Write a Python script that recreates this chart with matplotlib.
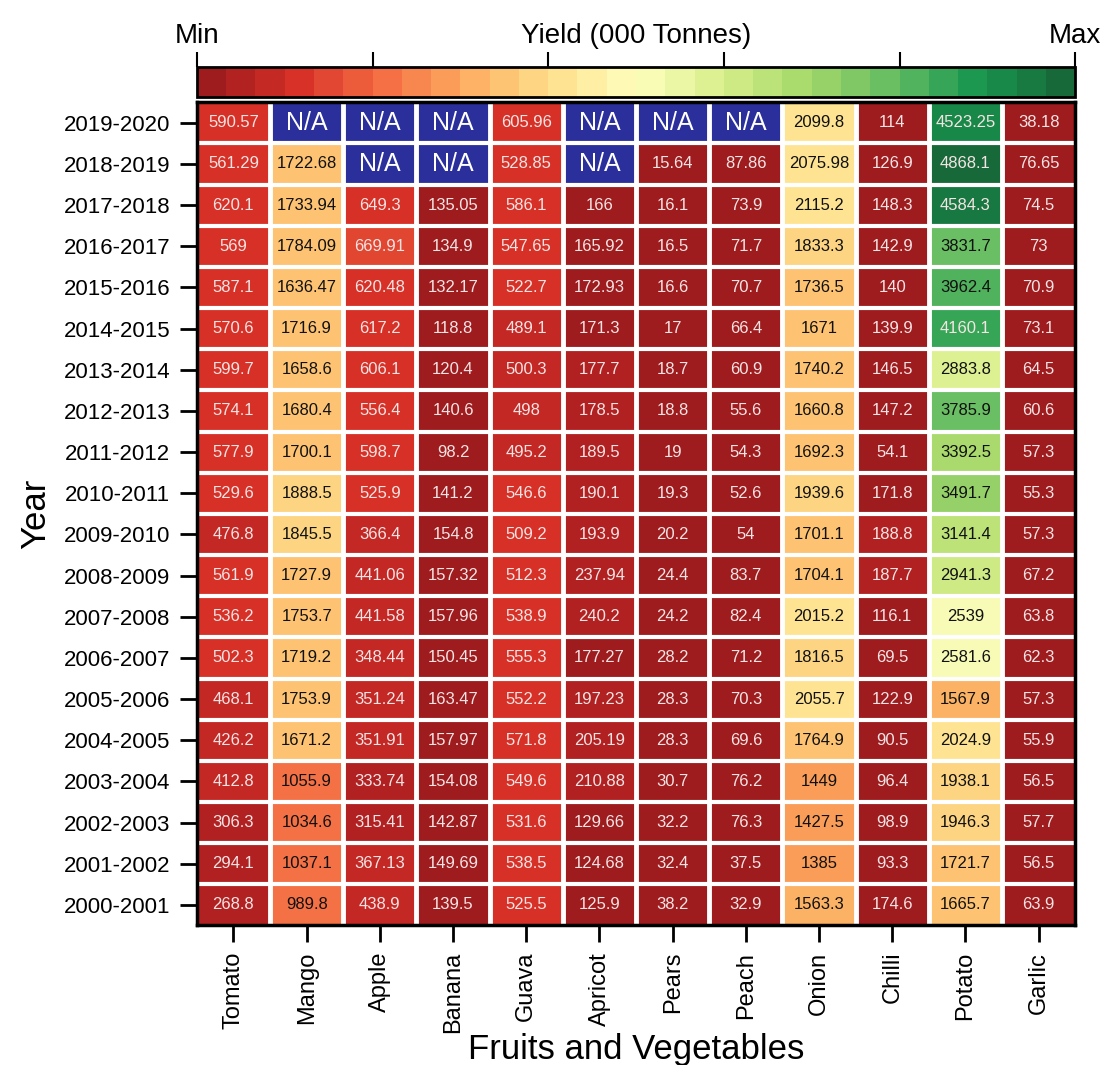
import numpy as np
import matplotlib
matplotlib.use('Agg')
import matplotlib.pyplot as plt
from matplotlib.colors import LinearSegmentedColormap

plt.rcParams['font.family'] = ['Liberation Sans', 'DejaVu Sans']

nan = np.nan
years = ['2019-2020', '2018-2019', '2017-2018', '2016-2017', '2015-2016',
         '2014-2015', '2013-2014', '2012-2013', '2011-2012', '2010-2011',
         '2009-2010', '2008-2009', '2007-2008', '2006-2007', '2005-2006',
         '2004-2005', '2003-2004', '2002-2003', '2001-2002', '2000-2001']
crops = ['Tomato', 'Mango', 'Apple', 'Banana', 'Guava', 'Apricot',
         'Pears', 'Peach', 'Onion', 'Chilli', 'Potato', 'Garlic']

# yields per crop, listed top row (2019-2020) to bottom row (2000-2001)
tomato = [590.57, 561.29, 620.1, 569, 587.1, 570.6, 599.7, 574.1, 577.9, 529.6,
          476.8, 561.9, 536.2, 502.3, 468.1, 426.2, 412.8, 306.3, 294.1, 268.8]
mango = [nan, 1722.68, 1733.94, 1784.09, 1636.47, 1716.9, 1658.6, 1680.4, 1700.1, 1888.5,
         1845.5, 1727.9, 1753.7, 1719.2, 1753.9, 1671.2, 1055.9, 1034.6, 1037.1, 989.8]
apple = [nan, nan, 649.3, 669.91, 620.48, 617.2, 606.1, 556.4, 598.7, 525.9,
         366.4, 441.06, 441.58, 348.44, 351.24, 351.91, 333.74, 315.41, 367.13, 438.9]
banana = [nan, nan, 135.05, 134.9, 132.17, 118.8, 120.4, 140.6, 98.2, 141.2,
          154.8, 157.32, 157.96, 150.45, 163.47, 157.97, 154.08, 142.87, 149.69, 139.5]
guava = [605.96, 528.85, 586.1, 547.65, 522.7, 489.1, 500.3, 498, 495.2, 546.6,
         509.2, 512.3, 538.9, 555.3, 552.2, 571.8, 549.6, 531.6, 538.5, 525.5]
apricot = [nan, nan, 166, 165.92, 172.93, 171.3, 177.7, 178.5, 189.5, 190.1,
           193.9, 237.94, 240.2, 177.27, 197.23, 205.19, 210.88, 129.66, 124.68, 125.9]
pears = [nan, 15.64, 16.1, 16.5, 16.6, 17, 18.7, 18.8, 19, 19.3,
         20.2, 24.4, 24.2, 28.2, 28.3, 28.3, 30.7, 32.2, 32.4, 38.2]
peach = [nan, 87.86, 73.9, 71.7, 70.7, 66.4, 60.9, 55.6, 54.3, 52.6,
         54, 83.7, 82.4, 71.2, 70.3, 69.6, 76.2, 76.3, 37.5, 32.9]
onion = [2099.8, 2075.98, 2115.2, 1833.3, 1736.5, 1671, 1740.2, 1660.8, 1692.3, 1939.6,
         1701.1, 1704.1, 2015.2, 1816.5, 2055.7, 1764.9, 1449, 1427.5, 1385, 1563.3]
chilli = [114, 126.9, 148.3, 142.9, 140, 139.9, 146.5, 147.2, 54.1, 171.8,
          188.8, 187.7, 116.1, 69.5, 122.9, 90.5, 96.4, 98.9, 93.3, 174.6]
potato = [4523.25, 4868.1, 4584.3, 3831.7, 3962.4, 4160.1, 2883.8, 3785.9, 3392.5, 3491.7,
          3141.4, 2941.3, 2539, 2581.6, 1567.9, 2024.9, 1938.1, 1946.3, 1721.7, 1665.7]
garlic = [38.18, 76.65, 74.5, 73, 70.9, 73.1, 64.5, 60.6, 57.3, 55.3,
          57.3, 67.2, 63.8, 62.3, 57.3, 55.9, 56.5, 57.7, 56.5, 63.9]

data = np.array([tomato, mango, apple, banana, guava, apricot,
                 pears, peach, onion, chilli, potato, garlic]).T
masked = np.ma.masked_invalid(data)
vmin, vmax = np.nanmin(data), np.nanmax(data)

# RdYlGn, but with a browner dark red at the low end
base = plt.get_cmap('RdYlGn')
stops = [base(x) for x in np.linspace(0, 1, 11)]
stops[0] = '#9e1b1e'
stops[-1] = '#17693a'
cmap = LinearSegmentedColormap.from_list('yield', stops, N=30)
cmap.set_bad('#2b2f9c')

fig = plt.figure(figsize=(11.12, 10.65), dpi=100)
ax = fig.add_axes([0.177, 0.131, 0.790, 0.773])
cax = fig.add_axes([0.177, 0.909, 0.790, 0.028])

im = ax.imshow(masked, cmap=cmap, vmin=vmin, vmax=vmax, aspect='auto',
               interpolation='nearest')

nrows, ncols = data.shape
for i in range(1, nrows):
    ax.axhline(i - 0.5, color='white', lw=3)
for j in range(1, ncols):
    ax.axvline(j - 0.5, color='white', lw=3.5)

for i in range(nrows):
    for j in range(ncols):
        v = data[i, j]
        if np.isnan(v):
            ax.text(j, i, 'N/A', ha='center', va='center', fontsize=18,
                    color='white')
            continue
        f = (v - vmin) / (vmax - vmin)
        col = '#f4e4e4' if (f < 0.17 or f > 0.83) else '#111111'
        ax.text(j, i, f'{v:g}', ha='center', va='center', fontsize=12,
                color=col)

ax.set_xticks(range(ncols))
ax.set_xticklabels(crops, rotation=90, fontsize=17)
ax.set_yticks(range(nrows))
ax.set_yticklabels(years, fontsize=16)
ax.tick_params(length=12, width=2, color='black')
ax.tick_params(axis='y', pad=7)
ax.tick_params(axis='x', pad=7)
for s in ax.spines.values():
    s.set_linewidth(2.5)
ax.set_xlabel('Fruits and Vegetables', fontsize=25, labelpad=0)
ax.set_ylabel('Year', fontsize=25, labelpad=8)

cb = fig.colorbar(im, cax=cax, orientation='horizontal')
cb.outline.set_linewidth(2)
cax.xaxis.set_ticks_position('top')
span = vmax - vmin
cb.set_ticks([vmin + span * k / 5 for k in range(6)])
cax.set_xticklabels([''] * 6)
cax.tick_params(axis='x', length=11, width=1.5, color='black')
cax.text(0, 1.8, 'Min', transform=cax.transAxes, ha='center', va='baseline',
         fontsize=20)
cax.text(1, 1.8, 'Max', transform=cax.transAxes, ha='center', va='baseline',
         fontsize=20)
cax.text(0.5, 1.8, 'Yield (000 Tonnes)', transform=cax.transAxes,
         ha='center', va='baseline', fontsize=20)

fig.savefig('out.png', dpi=100)
